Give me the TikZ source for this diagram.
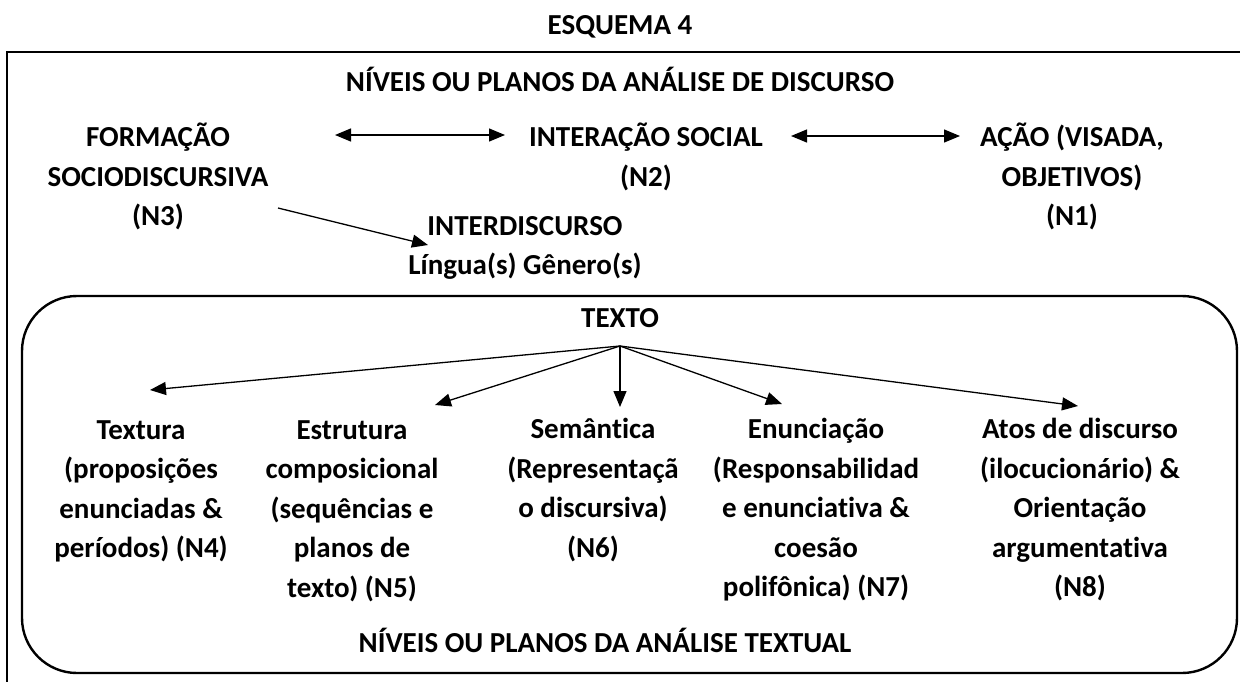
\documentclass[tikz,border=0pt]{standalone}
\usepackage{fontspec}
\setmainfont[Ligatures={NoCommon}]{Carlito}
\usetikzlibrary{arrows.meta}
\begin{document}
\begin{tikzpicture}[x=1pt,y=-1pt,
  txt/.style={font=\fontsize{29}{39.5}\selectfont\bfseries, align=center, inner sep=0pt},
  tip/.tip={Triangle[length=16pt,width=13pt]},
  arr/.style={-tip, line width=1.3pt},
  darr/.style={tip-tip, line width=1.3pt},
  frame/.style={line width=2.4pt}]
\useasboundingbox (0,0) rectangle (1240,681);
% frames
\draw[frame] (1250,52) -- (7,52) -- (7,700);
\draw[frame, rounded corners=55pt] (22,296) rectangle (1237,673);
% top level
\node[txt] (title) at (620,27) {ESQUEMA 4};
\node[txt] (adtitle) at (620,79) {NÍVEIS OU PLANOS DA ANÁLISE DE DISCURSO};
\node[txt, anchor=north] (n3) at (158,123) {FORMAÇÃO\\SOCIODISCURSIVA\\(N3)};
\node[txt, anchor=north] (n2) at (646,123) {INTERAÇÃO SOCIAL\\(N2)};
\node[txt, anchor=north] (n1) at (1072,123) {AÇÃO (VISADA,\\OBJETIVOS)\\(N1)};
\node[txt, anchor=north] (inter) at (525,216) {INTERDISCURSO\\Língua(s) Gênero(s)};
% text level
\node[txt] (texto) at (620,318) {TEXTO};
\coordinate (src) at (620,346);
\node[txt, anchor=north] (n4) at (141,420) {Textura\\(proposições\\enunciadas \&\\períodos) (N4)};
\node[txt, anchor=north] (n5) at (352,420) {Estrutura\\composicional\\(sequências e\\planos de\\texto) (N5)};
\node[txt, anchor=north] (n6) at (593,418) {Semântica\\(Representaçã\\o discursiva)\\(N6)};
\node[txt, anchor=north] (n7) at (816,418) {Enunciação\\(Responsabilidad\\e enunciativa \&\\coesão\\polifônica) (N7)};
\node[txt, anchor=north] (n8) at (1080,418) {Atos de discurso\\(ilocucionário) \&\\Orientação\\argumentativa\\(N8)};
\node[txt] (attitle) at (605,640) {NÍVEIS OU PLANOS DA ANÁLISE TEXTUAL};
% connector ends
\coordinate (a1) at (335,135);
\coordinate (a2) at (505,135);
\coordinate (a3) at (791,136);
\coordinate (a4) at (960,136);
\coordinate (d1) at (278,208);
\coordinate (d2) at (428,245);
\coordinate (e4) at (150,390);
\coordinate (e5) at (435,405);
\coordinate (e6) at (620,407);
\coordinate (e7) at (782,404);
\coordinate (e8) at (1078,406);
% connectors
\draw[darr] (a1) -- (a2);
\draw[darr] (a3) -- (a4);
\draw[arr] (d1) -- (d2);
\draw[arr] (src) -- (e4);
\draw[arr] (src) -- (e5);
\draw[arr] (src) -- (e6);
\draw[arr] (src) -- (e7);
\draw[arr] (src) -- (e8);
\end{tikzpicture}
\end{document}
